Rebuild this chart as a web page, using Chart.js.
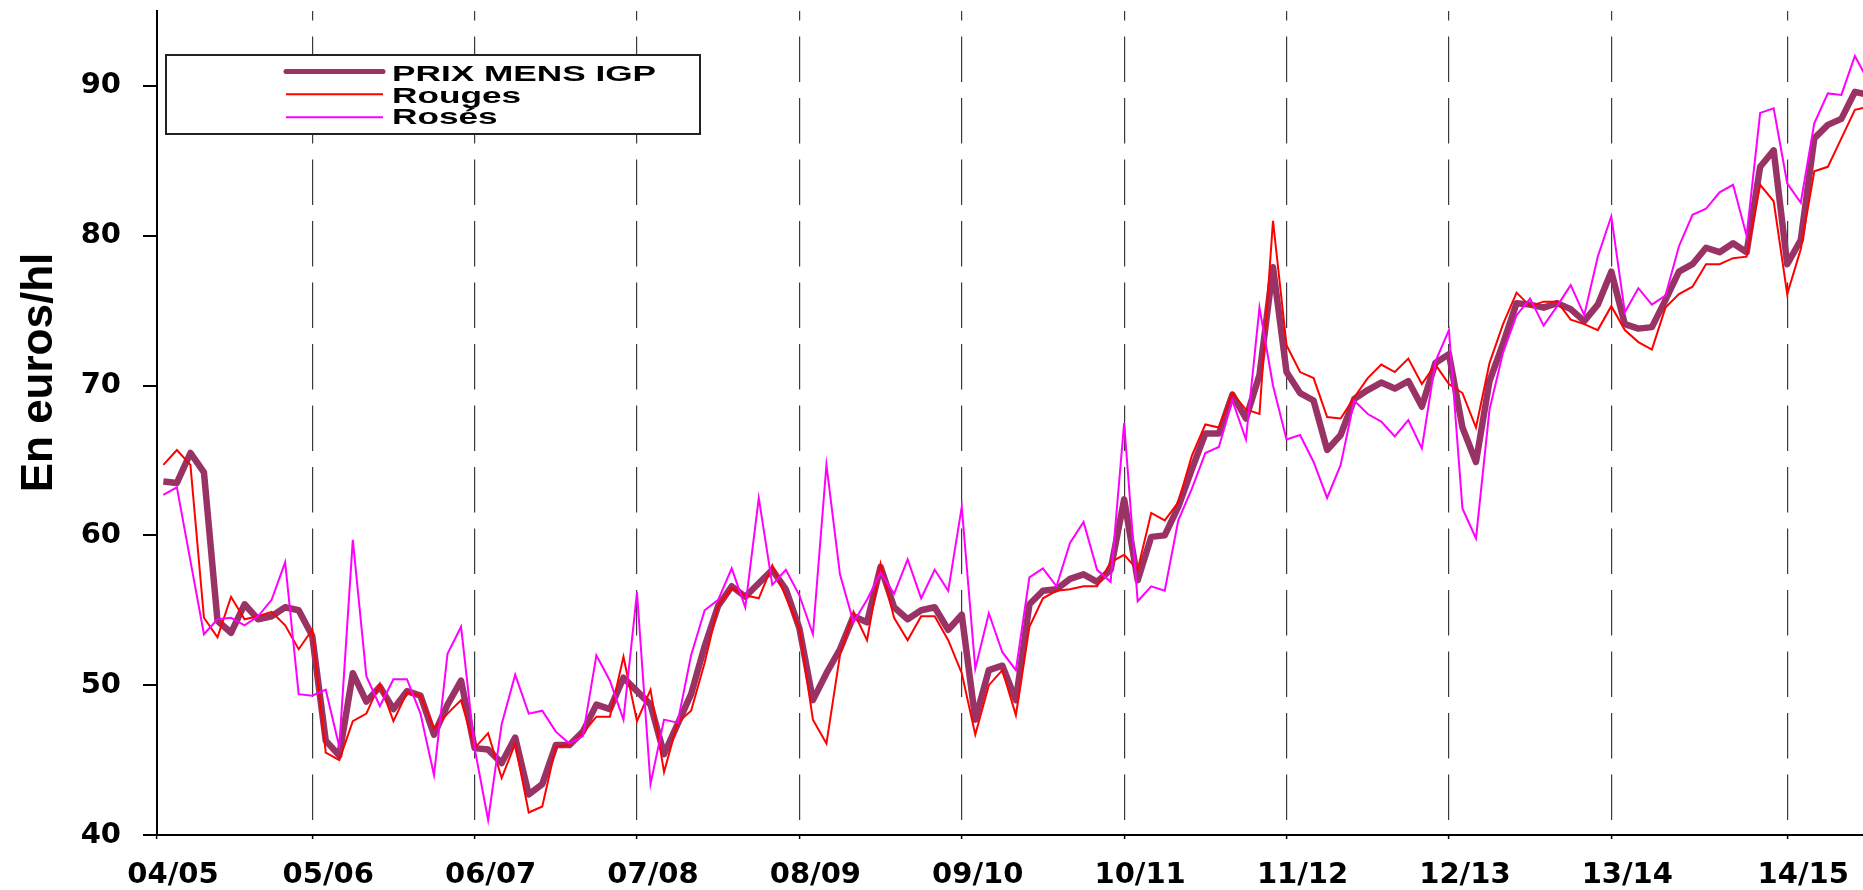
<!DOCTYPE html>
<html>
<head>
<meta charset="utf-8">
<title>Prix mensuels IGP</title>
<script src="https://cdn.jsdelivr.net/npm/chart.js@4.4.0/dist/chart.umd.min.js"></script>
<style>
  html, body { margin: 0; padding: 0; background: #fff; }
  #wrap { width: 1863px; height: 890px; }
</style>
</head>
<body>
<div id="wrap"><canvas id="myChart" width="1863" height="890"></canvas></div>
<script>
// monthly prices, euros/hl
var prixIgp = [
  63.6, 63.5, 65.5, 64.2, 54.3, 53.5, 55.4, 54.4, 54.6, 55.2, 55.0, 53.3,
  46.3, 45.3, 50.8, 48.9, 49.9, 48.4, 49.6, 49.3, 46.7, 48.7, 50.3, 45.8,
  45.7, 44.8, 46.5, 42.7, 43.4, 46.0, 46.0, 46.9, 48.7, 48.4, 50.5, 49.6,
  48.7, 45.4, 47.4, 49.4, 52.6, 55.3, 56.6, 55.9, 56.8, 57.7, 56.4, 53.8,
  49.0, 50.8, 52.4, 54.6, 54.2, 57.9, 55.2, 54.4, 55.0, 55.2, 53.7, 54.7,
  47.7, 51.0, 51.3, 49.0, 55.4, 56.3, 56.4, 57.1, 57.4, 56.9, 57.7, 62.4,
  57.0, 59.9, 60.0, 61.9, 64.4, 66.8, 66.8, 69.4, 67.8, 70.7, 77.9, 70.9,
  69.5, 69.0, 65.7, 66.7, 69.1, 69.7, 70.2, 69.8, 70.3, 68.6, 71.5, 72.1,
  67.2, 64.9, 70.3, 72.8, 75.5, 75.4, 75.2, 75.5, 75.1, 74.3, 75.4, 77.6,
  74.1, 73.8, 73.9, 75.7, 77.6, 78.1, 79.2, 78.9, 79.5, 78.9, 84.6, 85.7,
  78.1, 79.7, 86.5, 87.4, 87.8, 89.6, 89.4
];
var rouges = [
  64.7, 65.7, 64.7, 54.5, 53.2, 55.9, 54.4, 54.6, 54.9, 54.0, 52.4, 53.7,
  45.5, 45.0, 47.6, 48.1, 50.1, 47.6, 49.5, 49.3, 47.1, 48.1, 49.0, 45.8,
  46.8, 43.8, 46.1, 41.5, 41.9, 45.9, 46.0, 46.8, 47.9, 47.9, 51.9, 47.6,
  49.7, 44.2, 47.5, 48.3, 51.5, 55.3, 56.5, 56.0, 55.8, 58.0, 55.9, 53.8,
  47.7, 46.1, 52.0, 54.9, 53.0, 58.1, 54.5, 53.0, 54.6, 54.6, 53.0, 50.8,
  46.7, 50.0, 51.0, 48.0, 53.9, 55.8, 56.3, 56.4, 56.6, 56.6, 58.2, 58.7,
  57.7, 61.5, 61.0, 62.2, 65.3, 67.4, 67.2, 69.5, 68.4, 68.1, 81.0, 72.7,
  70.9, 70.5, 67.9, 67.8, 69.2, 70.5, 71.4, 70.9, 71.8, 70.1, 71.4, 70.1,
  69.5, 67.2, 71.5, 74.1, 76.2, 75.3, 75.6, 75.6, 74.4, 74.1, 73.7, 75.3,
  73.7, 72.9, 72.4, 75.2, 76.1, 76.6, 78.1, 78.1, 78.5, 78.6, 83.4, 82.3,
  76.1, 79.1, 84.3, 84.6, 86.5, 88.4, 88.6
];
var roses = [
  62.7, 63.2, 58.3, 53.4, 54.4, 54.5, 54.0, 54.6, 55.7, 58.2, 49.4, 49.3,
  49.7, 45.9, 59.7, 50.6, 48.6, 50.4, 50.4, 48.1, 44.0, 52.1, 53.9, 45.8,
  41.0, 47.4, 50.7, 48.1, 48.3, 46.9, 46.1, 46.6, 52.0, 50.3, 47.7, 56.2,
  43.4, 47.7, 47.5, 52.0, 55.0, 55.7, 57.8, 55.2, 62.5, 56.7, 57.7, 56.0,
  53.4, 64.7, 57.4, 54.2, 55.7, 57.5, 56.1, 58.4, 55.8, 57.7, 56.3, 61.9,
  51.1, 54.8, 52.2, 51.0, 57.2, 57.8, 56.6, 59.5, 60.9, 57.7, 56.9, 67.5,
  55.6, 56.6, 56.3, 61.0, 63.1, 65.5, 65.9, 69.0, 66.4, 75.2, 70.0, 66.4,
  66.7, 64.9, 62.5, 64.7, 69.0, 68.1, 67.6, 66.6, 67.7, 65.8, 71.6, 73.7,
  61.8, 59.8, 68.4, 72.2, 74.7, 75.8, 74.0, 75.3, 76.7, 74.7, 78.6, 81.3,
  74.9, 76.5, 75.4, 76.0, 79.3, 81.4, 81.8, 82.9, 83.4, 80.0, 88.2, 88.5,
  83.5, 82.2, 87.5, 89.5, 89.4, 92.0, 90.3
];

// campaign labels and the month index of each dashed line
var campagnes = ["04/05", "05/06", "06/07", "07/08", "08/09", "09/10", "10/11", "11/12", "12/13", "13/14", "14/15"];
var campagneIdx = [-0.47, 11, 23, 35, 47, 59, 71, 83, 95, 107, 120];
var yTicks = [40, 50, 60, 70, 80, 90];

var yTitle = "En euros/hl";

function toPoints(arr) {
  return arr.map((v, i) => ({ x: i, y: v }));
}

var boxLegend = {
  id: "boxLegend",
  afterDraw: function(chart) {
    var ctx = chart.ctx;
    ctx.save();
    ctx.fillStyle = "#fff";
    ctx.fillRect(166, 55, 534, 79);
    ctx.strokeStyle = "#222";
    ctx.lineWidth = 2;
    ctx.strokeRect(166, 55, 534, 79);

    var lineY = [71.5, 94.3, 117.3];
    var textY = [80.7, 102.7, 124];
    chart.data.datasets.forEach((ds, i) => {
      ctx.beginPath();
      ctx.strokeStyle = ds.borderColor;
      ctx.lineWidth = i == 0 ? 5 : 2;
      ctx.lineCap = i == 0 ? "round" : "butt";
      ctx.moveTo(286, lineY[i]);
      ctx.lineTo(383, lineY[i]);
      ctx.stroke();

      ctx.save();
      ctx.translate(392, textY[i]);
      ctx.scale(1.6, 1);
      ctx.fillStyle = "#000";
      ctx.font = "bold 22px 'Liberation Sans', Arial, sans-serif";
      ctx.textBaseline = "alphabetic";
      ctx.fillText(ds.label, 0, 0);
      ctx.restore();
    });

    // y axis title
    ctx.translate(51.5, 372.5);
    ctx.rotate(-Math.PI / 2);
    ctx.fillStyle = "#000";
    ctx.font = "bold 44px 'Liberation Sans', Arial, sans-serif";
    ctx.textAlign = "center";
    ctx.textBaseline = "alphabetic";
    ctx.fillText(yTitle, 0, 0);
    ctx.restore();
  }
};

var tickFont = { family: "'DejaVu Sans', sans-serif", size: 29, weight: "bold" };

var ctx = document.getElementById("myChart").getContext("2d");
var myChart = new Chart(ctx, {
  type: "line",
  data: {
    datasets: [
      {
        label: "PRIX MENS IGP",
        data: toPoints(prixIgp),
        borderColor: "#993366",
        borderWidth: 6.5,
        borderJoinStyle: "round",
        pointRadius: 0,
        order: 3
      },
      {
        label: "Rouges",
        data: toPoints(rouges),
        borderColor: "#ff0000",
        borderWidth: 2,
        pointRadius: 0,
        order: 2
      },
      {
        label: "Rosés",
        data: toPoints(roses),
        borderColor: "#ff00ff",
        borderWidth: 2,
        pointRadius: 0,
        order: 1
      }
    ]
  },
  options: {
    responsive: false,
    animation: false,
    devicePixelRatio: 1,
    layout: { padding: { top: 11, left: 0, right: 0, bottom: 0 } },
    plugins: {
      legend: { display: false },
      tooltip: { enabled: false }
    },
    scales: {
      x: {
        type: "linear",
        min: -0.47,
        max: 125.6,
        afterFit: s => {
          s.height = 55;
          s.paddingLeft = 0;
          s.paddingRight = 0;
        },
        afterBuildTicks: s => { s.ticks = campagneIdx.map(v => ({ value: v })); },
        ticks: {
          autoSkip: false,
          maxRotation: 0,
          labelOffset: 16,
          padding: 19,
          color: "#000",
          font: tickFont,
          callback: v => campagnes[campagneIdx.indexOf(v)]
        },
        grid: {
          color: c => (c.tick && c.tick.value < 0 ? "rgba(0,0,0,0)" : "#3a3a3a"),
          lineWidth: 1.2,
          drawTicks: true,
          tickLength: 4,
          tickColor: "#000",
          tickWidth: 1.5
        },
        border: { color: "#000", width: 2, dash: [45.5, 16], dashOffset: 36 }
      },
      y: {
        min: 40,
        max: 95,
        afterFit: s => {
          s.width = 157;
          s.paddingTop = 0;
          s.paddingBottom = 0;
        },
        afterBuildTicks: s => { s.ticks = yTicks.map(v => ({ value: v })); },
        ticks: { padding: 22, color: "#000", font: tickFont },
        grid: {
          drawOnChartArea: false,
          drawTicks: true,
          tickLength: 14,
          color: "#000",
          lineWidth: 2
        },
        border: { color: "#000", width: 2 }
      }
    }
  },
  plugins: [boxLegend]
});
</script>
</body>
</html>
